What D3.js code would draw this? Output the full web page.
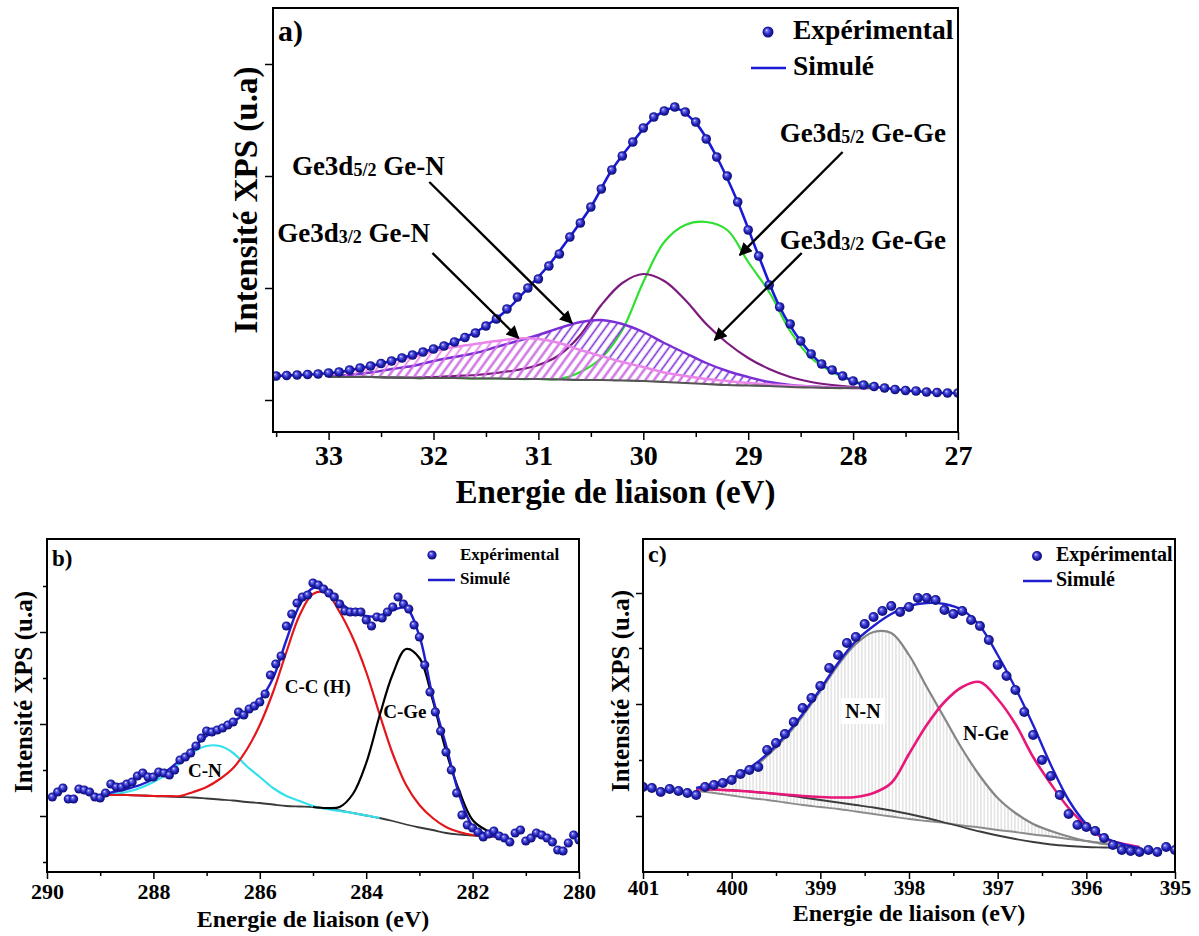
<!DOCTYPE html>
<html><head><meta charset="utf-8">
<script src="https://cdn.jsdelivr.net/npm/d3@7"></script>
<style>
body{margin:0;background:#fff;}
text{font-family:"Liberation Serif","Times New Roman",serif;font-weight:bold;fill:#000;}
</style></head>
<body><svg id="chart" width="1199" height="936"></svg>
<script>
// ================= DATA =================
// ---- Panel a : Ge3d ----
const aExpEnergy = [33.5,33.4,33.3,33.2,33.1,33.0,32.9,32.8,32.7,32.6,32.5,32.4,32.3,32.2,32.1,32.0,31.9,31.8,31.7,31.6,31.5,31.4,31.3,31.2,31.1,31.0,30.9,30.8,30.7,30.6,30.5,30.4,30.3,30.2,30.1,30.0,29.9,29.8,29.7,29.6,29.5,29.4,29.3,29.2,29.1,29.0,28.9,28.8,28.7,28.6,28.5,28.4,28.3,28.2,28.1,28.0,27.9,27.8,27.7,27.6,27.5,27.4,27.3,27.2,27.1,27.0];
const aExp = [56,56.5,57,57.5,58,59,60,62,64,66,68.5,71,74,77,80,83,86,90,94.5,99,106,113,123,135,144,153,166,178,195,209,225,243,262,276,290,304,315,321,325,320,310,293,275,256,230,202,176,147,125,108,91,78,68,62,56,51,47,45.5,44,42.5,41.5,41,40,39.5,39,39];
const aSimEnergy = [33.5,33.3,33.1,32.9,32.7,32.5,32.3,32.1,31.9,31.7,31.5,31.3,31.1,30.9,30.7,30.5,30.3,30.1,29.9,29.7,29.5,29.3,29.1,28.9,28.7,28.5,28.3,28.1,27.9,27.7,27.5,27.3,27.1,27.0];
const aSim = [56,57,58,60,64,68.5,74,80,86,94.5,106,122,144,167,195,225,262,290,314,324,309,275,230,176,125,91,68,56,47,44,41.5,40,39,39];
const aCompEnergy = [33.0,32.8,32.6,32.4,32.2,32.0,31.8,31.6,31.4,31.2,31.0,30.8,30.6,30.4,30.2,30.0,29.8,29.6,29.4,29.2,29.0,28.8,28.6,28.4,28.2,28.0,27.8];
const aBackground = [55,55,55,54.5,54,54,54,53.5,53.5,53,53,52.5,52,52,51.5,51,50,49,48,47,46.5,46,45,44.5,44,44,44];
const aGeGe52 = [55,55,55,54.5,54,54,54,53.5,53.5,53,53,53,60,74,102,150,190,207,210,202,170,140,101,74,60,51,47];
const aGeGe32 = [55,55,55,54.5,54.5,55,56,57,59,62,67,77,97,127,149,158,151,132,108,89,74,63,55,50,47,45,44];
const aGeN52 = [56,57,59.5,63,66,71,75,79,85,91,97,104,110,112,108,100,89,79,69,61,55,50,47,45.5,44.5,44,44];
const aGeN32 = [57,61,65,71,75,81,85,88,91,93.5,93,89,82,76,70,65,59.5,56,53,51,49,47.5,46.5,45.5,44.5,44,44];
const aXTicks = [33,32,31,30,29,28,27];
const aXMinor = [33.5,32.5,31.5,30.5,29.5,28.5,27.5];
const aYTicks = [32,144,256,368];
const aAnnotations = [
  {main:"Ge3d", sub:"5/2", rest:" Ge-N",  tx:33.35, ty:257, x1:32.04, y1:250, x2:30.68, y2:109},
  {main:"Ge3d", sub:"3/2", rest:" Ge-N",  tx:33.49, ty:190, x1:32.01, y1:179, x2:31.19, y2:94},
  {main:"Ge3d", sub:"5/2", rest:" Ge-Ge", tx:28.70, ty:290, x1:28.10, y1:280, x2:29.08, y2:177},
  {main:"Ge3d", sub:"3/2", rest:" Ge-Ge", tx:28.70, ty:183, x1:28.49, y1:179, x2:29.32, y2:92}
];

// ---- Panel b : C1s ----
const bExpEnergy = [289.9,289.8,289.7,289.6,289.5,289.4,289.3,289.2,289.1,289.0,288.9,288.8,288.7,288.6,288.5,288.4,288.3,288.2,288.1,288.0,287.9,287.8,287.7,287.6,287.5,287.4,287.3,287.2,287.1,287.0,286.9,286.8,286.7,286.6,286.5,286.4,286.3,286.2,286.1,286.0,285.9,285.8,285.7,285.6,285.5,285.4,285.3,285.2,285.1,285.0,284.9,284.8,284.7,284.6,284.5,284.4,284.3,284.2,284.1,284.0,283.9,283.8,283.7,283.6,283.5,283.4,283.3,283.2,283.1,283.0,282.9,282.8,282.7,282.6,282.5,282.4,282.3,282.2,282.1,282.0,281.9,281.8,281.7,281.6,281.5,281.4,281.3,281.2,281.1,281.0,280.9,280.8,280.7,280.6,280.5,280.4,280.3,280.2,280.1,280.0];
const bExp = [75,80,84,73,73,83,82,80,75,74,79,88,85,85,88,90,96,99,95,95,100,99,97,102,112,115,119,126,134,141,140,142,144,147,150,160,157,163,166,170,178,197,208,216,246,258,269,275,277,289,287,283,279,275,268,261,260,260,260,252,246,255,254,260,265,275,268,263,247,235,207,180,160,141,120,102,79,57,47,44,40,35,38,41,36,34,30,39,42,31,34,39,37,34,30,22,21,29,37,32];
const bCompEnergy = [289,288.75,288.5,288.25,288,287.75,287.5,287.25,287,286.75,286.5,286.25,286,285.75,285.5,285.25,285,284.75,284.5,284.25,284,283.75,283.5,283.25,283,282.75,282.5,282.25,282,281.75,281.5];
const bBackground = [77,77,77,76.5,76,75.5,75,74.5,73.5,72.5,71.5,70,69,67.5,66,65.5,65,63.5,61.5,59,56.5,54,51,47.5,44.5,42,39,37.5,36.5,36,35];
const bCN = [77,78,80,84,90,98,109,120,126,126,119,106,95,84,76,71,66,63,61,59,56.5,54,null,null,null,null,null,null,null,null,null];
const bCC = [77,77,77,76.5,76,76,76,80,85,93,104,122,147,180,220,257,278,279,260,234,200,158,118,87,67,54,45,40,37,36,35];
const bCGe = [null,null,null,null,null,null,null,null,null,null,null,null,null,null,null,null,65,64,65,78,109,156,198,223,214,172,121,81,52,42,37];
const bSim = [77,80,83,87,93,101,112,124,136,143,150,160,172,194,232,267,284,281,270,260,256,256,262,264,236,175,127,77,46,38,35];
const bXTicks = [290,288,286,284,282,280];
const bXMinor = [289,287,285,283,281];
const bYTicks = [56,148,240];
const bYMinor = [10,102,194,286];
const bLabels = [{t:"C-N", e:287.35, v:95},{t:"C-C (H)", e:285.53, v:179},{t:"C-Ge", e:283.68, v:154}];

// ---- Panel c : N1s ----
const cExpEnergy = [401.0,400.9,400.8,400.7,400.6,400.5,400.4,400.3,400.2,400.1,400.0,399.9,399.8,399.7,399.6,399.5,399.4,399.3,399.2,399.1,399.0,398.9,398.8,398.7,398.6,398.5,398.4,398.3,398.2,398.1,398.0,397.9,397.8,397.7,397.6,397.5,397.4,397.3,397.2,397.1,397.0,396.9,396.8,396.7,396.6,396.5,396.4,396.3,396.2,396.1,396.0,395.9,395.8,395.7,395.6,395.5,395.4,395.3,395.2,395.1,395.0];
const cExp = [85,84,80,83,81,79,77,85,87,89,92,98,102,105,122,129,138,150,164,174,186,204,217,229,235,248,255,261,266,260,265,274,274,272,262,258,261,252,246,232,207,196,182,160,137,112,96,77,58,47,45,41,34,27,22,21,20,22,20,25,22];
const cCompEnergy = [400.4,400.2,400.0,399.8,399.6,399.4,399.2,399.0,398.8,398.6,398.4,398.2,398.0,397.8,397.6,397.4,397.2,397.0,396.8,396.6,396.4,396.2,396.0,395.8,395.6,395.4];
const cBgLight = [81,79,76.5,74,72,69.5,67,65,63,60.5,58,55.5,53,51,49,46.5,44.5,42,40,37.5,35.5,33,31,29,26.5,24.5];
const cBgDark = [83,82.5,82,80.5,79,77,74.5,72,69.5,67,64.5,61.5,58,54,49.5,45,40.5,36.5,33,30,27.5,26,25,24.5,24,24];
const cNN = [82,86,92,102,116,134,156,181,207,228,240,239,217,185,154,123,96,74,59,48,41,35.5,31,28,25.5,24];
const cNGe = [83,82.5,81.5,80.5,79,77.5,76,75,74.5,75,79,89,118,147,170,185,190,173,148,115,88,64,46,33.5,28.5,25];
const cSim = [84,88,94,104,118,136,158,183,209,231,246,258,266,269,268,262,246,217,184,147,107,72,48,35,28,24];
const cXTicks = [401,400,399,398,397,396,395];
const cXMinor = [400.5,399.5,398.5,397.5,396.5,395.5];
const cYTicks = [56,168,279];
const cYMinor = [112,224];
const cLabels = [{t:"N-N", e:398.72, v:154, box:true},{t:"N-Ge", e:397.39, v:132}];

const yTitle = "Intensité XPS (u.a)";
const xTitle = "Energie de liaison (eV)";

// ================= DRAWING =================
const svg = d3.select("#chart");
const defs = svg.append("defs");
const grad = defs.append("radialGradient").attr("id","ball")
  .attr("cx","50%").attr("cy","50%").attr("r","55%").attr("fx","36%").attr("fy","32%");
grad.append("stop").attr("offset","0%").attr("stop-color","#e6e6ff");
grad.append("stop").attr("offset","22%").attr("stop-color","#6b6bf0");
grad.append("stop").attr("offset","60%").attr("stop-color","#2020b4");
grad.append("stop").attr("offset","100%").attr("stop-color","#0a0a62");

function makeHatch(id, color, angle, gap, sw){
  const p = defs.append("pattern").attr("id",id).attr("patternUnits","userSpaceOnUse")
    .attr("width",gap).attr("height",gap).attr("patternTransform",`rotate(${angle})`);
  p.append("line").attr("x1",gap/2).attr("y1",-1).attr("x2",gap/2).attr("y2",gap+1)
    .attr("stroke",color).attr("stroke-width",sw);
}
makeHatch("hPink","#e67ee6",36,7,1.7);
makeHatch("hPurple","#7a2fd6",36,7,1.6);
makeHatch("hGray","#c6c6c6",0,3.4,0.8);

defs.append("marker").attr("id","arrow").attr("viewBox","0 0 10 10")
  .attr("refX",9).attr("refY",5).attr("markerUnits","userSpaceOnUse")
  .attr("markerWidth",15).attr("markerHeight",13).attr("orient","auto")
  .append("path").attr("d","M0,0 L10,5 L0,10 z").attr("fill","#000");

const zip = (E,V) => E.map((e,i)=>({e, v:V[i]}));

function setupPanel(p){
  const x = d3.scaleLinear().domain(p.xDomain).range([p.left,p.right]);
  const y = d3.scaleLinear().domain(p.yDomain).range([p.bottom,p.top]);
  const g = svg.append("g");
  const clipId = "clip"+p.id;
  defs.append("clipPath").attr("id",clipId).append("rect")
    .attr("x",p.left).attr("y",p.top).attr("width",p.right-p.left).attr("height",p.bottom-p.top);
  const plot = g.append("g").attr("clip-path",`url(#${clipId})`);
  return {x,y,g,plot};
}

function finishPanel(p, s){
  const {x,y,g} = s;
  g.append("g").attr("transform",`translate(0,${p.bottom})`)
    .call(d3.axisBottom(x).tickValues(p.xMinor).tickSize(p.minorLen).tickFormat(""))
    .call(a=>{a.select(".domain").remove(); a.selectAll("line").attr("stroke","#000").attr("stroke-width",1.5);});
  g.append("g").attr("transform",`translate(0,${p.bottom})`)
    .call(d3.axisBottom(x).tickValues(p.xMajor).tickSize(p.majorLen).tickFormat(d3.format("d")))
    .call(a=>{a.select(".domain").remove(); a.selectAll("line").attr("stroke","#000").attr("stroke-width",1.5);
      a.selectAll("text").attr("y",p.tickLabelY).attr("dy",null)
       .style("font-size",p.tickFont+"px").style("font-family","'Liberation Serif',serif").style("font-weight","bold").attr("fill","#000");});
  g.append("g").attr("transform",`translate(${p.left},0)`)
    .call(d3.axisLeft(y).tickValues(p.yMajor).tickSize(p.majorLen).tickFormat(""))
    .call(a=>{a.select(".domain").remove(); a.selectAll("line").attr("stroke","#000").attr("stroke-width",1.5);});
  if(p.yMinor){
    g.append("g").attr("transform",`translate(${p.left},0)`)
      .call(d3.axisLeft(y).tickValues(p.yMinor).tickSize(p.minorLen).tickFormat(""))
      .call(a=>{a.select(".domain").remove(); a.selectAll("line").attr("stroke","#000").attr("stroke-width",1.5);});
  }
  g.append("rect").attr("x",p.left).attr("y",p.top).attr("width",p.right-p.left).attr("height",p.bottom-p.top)
    .attr("fill","none").attr("stroke","#000").attr("stroke-width",2);
  g.append("text").attr("x",(p.left+p.right)/2).attr("y",p.xTitleY).attr("text-anchor","middle")
    .style("font-size",p.xTitleFont+"px").text(xTitle);
  g.append("text").attr("transform",`translate(${p.yTitleX},${p.yTitleY}) rotate(-90)`).attr("text-anchor","middle")
    .style("font-size",p.yTitleFont+"px").text(yTitle);
  g.append("text").attr("x",p.tagX).attr("y",p.tagY).style("font-size",p.tagFont+"px").text(p.tag);
  const L = p.legend;
  g.append("circle").attr("cx",L.bx).attr("cy",L.by).attr("r",L.r).attr("fill","url(#ball)");
  g.append("text").attr("x",L.tx).attr("y",L.ty1).style("font-size",L.font+"px").text("Expérimental");
  g.append("line").attr("x1",L.lx1).attr("x2",L.lx2).attr("y1",L.ly).attr("y2",L.ly)
    .attr("stroke",p.simColor).attr("stroke-width",2.5);
  g.append("text").attr("x",L.tx).attr("y",L.ty2).style("font-size",L.font+"px").text("Simulé");
}

const curve = d3.curveCatmullRom.alpha(0.5);
function drawLine(s, data, color, width){
  const line = d3.line().defined(d=>d.v!=null).x(d=>s.x(d.e)).y(d=>s.y(d.v)).curve(curve);
  s.plot.append("path").datum(data).attr("d",line).attr("fill","none")
    .attr("stroke",color).attr("stroke-width",width).attr("stroke-linejoin","round");
}
function drawArea(s, E, base, top, fill){
  const data = E.map((e,i)=>({e, b:base[i], t:top[i]}));
  const area = d3.area().x(d=>s.x(d.e)).y0(d=>s.y(d.b)).y1(d=>s.y(d.t)).curve(curve);
  s.plot.append("path").datum(data).attr("d",area).attr("fill",fill).attr("stroke","none");
}
function drawDots(s, E, V, r){
  s.plot.append("g").selectAll("circle").data(zip(E,V)).join("circle")
    .attr("cx",d=>s.x(d.e)).attr("cy",d=>s.y(d.v)).attr("r",r).attr("fill","url(#ball)");
}

// ---------- Panel a ----------
const pA = {id:"a", left:273, right:958, top:8, bottom:432, xDomain:[33.53,27], yDomain:[0,424],
  xMajor:aXTicks, xMinor:aXMinor, yMajor:aYTicks, yMinor:null, majorLen:8, minorLen:5,
  tickLabelY:33, tickFont:28, xTitleY:503, xTitleFont:33, yTitleX:257, yTitleY:200, yTitleFont:33,
  tag:"a)", tagX:278, tagY:41, tagFont:30, simColor:"#1a1ad6",
  legend:{bx:768,by:32,r:5.5,tx:793,ty1:39,ty2:75,font:27.5,lx1:751,lx2:786,ly:68}};
const sA = setupPanel(pA);
drawLine(sA, zip(aCompEnergy,aGeGe52), "#2fe02f", 2.2);
drawLine(sA, zip(aCompEnergy,aGeGe32), "#7d1a7d", 2.2);
drawArea(sA, aCompEnergy, aBackground, aGeN52, "url(#hPurple)");
drawLine(sA, zip(aCompEnergy,aGeN52), "#7a2fd6", 2.4);
drawArea(sA, aCompEnergy, aBackground, aGeN32, "url(#hPink)");
drawLine(sA, zip(aCompEnergy,aGeN32), "#ea86ea", 2.4);
drawLine(sA, zip(aCompEnergy,aBackground), "#555555", 2.2);
drawLine(sA, zip(aSimEnergy,aSim), pA.simColor, 2.6);
drawDots(sA, aExpEnergy, aExp, 4.8);
finishPanel(pA, sA);
aAnnotations.forEach(a=>{
  sA.g.append("line").attr("x1",sA.x(a.x1)).attr("y1",sA.y(a.y1)).attr("x2",sA.x(a.x2)).attr("y2",sA.y(a.y2))
    .attr("stroke","#000").attr("stroke-width",2.4).attr("marker-end","url(#arrow)");
  const t = sA.g.append("text").attr("x",sA.x(a.tx)).attr("y",sA.y(a.ty)).style("font-size","27px");
  t.append("tspan").text(a.main);
  t.append("tspan").style("font-size","18px").attr("dy",1).text(a.sub);
  t.append("tspan").attr("dy",-1).text(a.rest);
});

// ---------- Panel b ----------
const pB = {id:"b", left:47, right:579, top:539, bottom:872, xDomain:[290,280], yDomain:[0,333],
  xMajor:bXTicks, xMinor:bXMinor, yMajor:bYTicks, yMinor:bYMinor, majorLen:7, minorLen:4,
  tickLabelY:27, tickFont:22, xTitleY:927, xTitleFont:24, yTitleX:32, yTitleY:692, yTitleFont:25,
  tag:"b)", tagX:52, tagY:566, tagFont:23, simColor:"#1f1fd0",
  legend:{bx:432,by:555,r:4.6,tx:460,ty1:560,ty2:584,font:17,lx1:428,lx2:455,ly:580}};
const sB = setupPanel(pB);
drawLine(sB, zip(bCompEnergy,bBackground), "#3a3a3a", 1.8);
drawLine(sB, zip(bCompEnergy,bCN), "#35e0ee", 2.2);
drawLine(sB, zip(bCompEnergy,bCC), "#e3171b", 2.2);
drawLine(sB, zip(bCompEnergy,bCGe), "#000000", 2.2);
drawLine(sB, zip(bCompEnergy,bSim), pB.simColor, 2.4);
drawDots(sB, bExpEnergy, bExp, 4.6);
finishPanel(pB, sB);
bLabels.forEach(l=>{
  sB.g.append("text").attr("x",sB.x(l.e)).attr("y",sB.y(l.v)).style("font-size","19px").text(l.t);
});

// ---------- Panel c ----------
const pC = {id:"c", left:643, right:1175, top:539, bottom:872, xDomain:[401,395], yDomain:[0,333],
  xMajor:cXTicks, xMinor:cXMinor, yMajor:cYTicks, yMinor:cYMinor, majorLen:7, minorLen:4,
  tickLabelY:23, tickFont:21, xTitleY:921, xTitleFont:24, yTitleX:629, yTitleY:691, yTitleFont:25,
  tag:"c)", tagX:648, tagY:562, tagFont:24, simColor:"#1f1fd0",
  legend:{bx:1037,by:556,r:5,tx:1056,ty1:561,ty2:586,font:20,lx1:1023,lx2:1052,ly:581}};
const sC = setupPanel(pC);
drawArea(sC, cCompEnergy, cBgLight, cNN, "url(#hGray)");
drawLine(sC, zip(cCompEnergy,cBgLight), "#8c8c8c", 1.8);
drawLine(sC, zip(cCompEnergy,cBgDark), "#3c3c3c", 1.8);
drawLine(sC, zip(cCompEnergy,cNN), "#858585", 2.2);
drawLine(sC, zip(cCompEnergy,cNGe), "#e8177a", 2.6);
drawLine(sC, zip(cCompEnergy,cSim), pC.simColor, 2.4);
drawDots(sC, cExpEnergy, cExp, 5);
finishPanel(pC, sC);
cLabels.forEach(l=>{
  const t = sC.g.append("text").attr("x",sC.x(l.e)).attr("y",sC.y(l.v)).style("font-size","20px").text(l.t);
  if(l.box){
    const b = t.node().getBBox();
    sC.g.insert("rect", function(){return t.node();})
      .attr("x",b.x-4).attr("y",b.y-2).attr("width",b.width+8).attr("height",b.height+4).attr("fill","#fff");
  }
});
</script>
</body></html>
